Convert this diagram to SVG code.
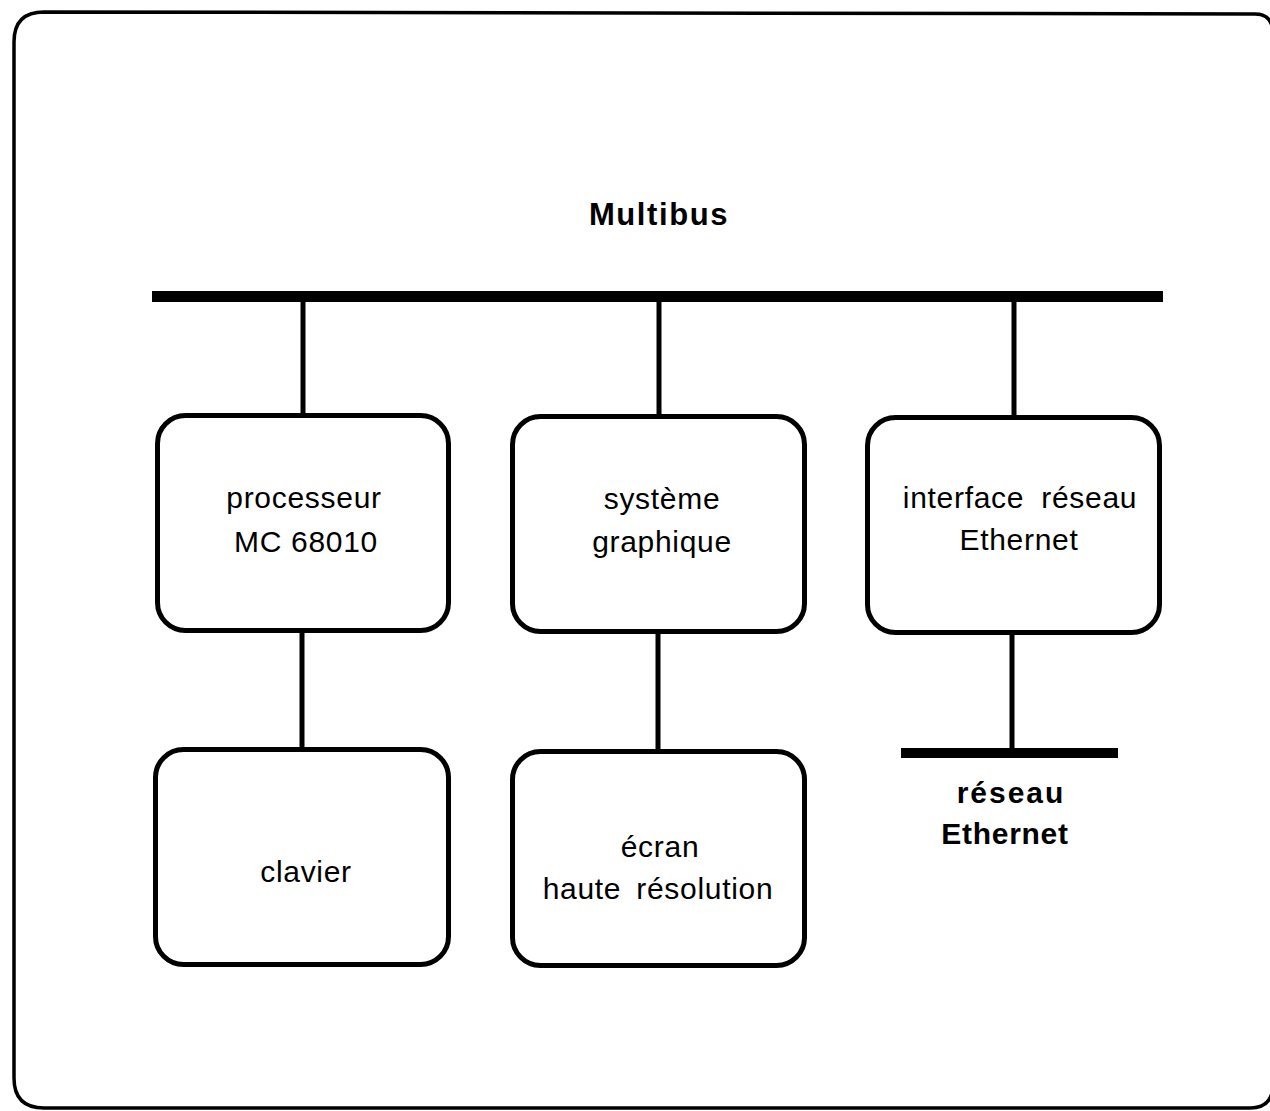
<svg xmlns="http://www.w3.org/2000/svg" width="1270" height="1111" viewBox="0 0 1270 1111">
  <style>
    .frame { fill: none; stroke: #000; stroke-width: 3.5; }
    .box { fill: #fff; stroke: #000; stroke-width: 5; }
    .wire { stroke: #000; stroke-width: 5; fill: none; }
    .bus { fill: #000; }
    .lbl { font-family: "Liberation Sans", Arial, Helvetica, sans-serif; font-size: 30px; fill: #000; text-anchor: middle; letter-spacing: 0.7px; }
    .bold { font-weight: bold; }
  </style>

  <!-- outer frame -->
  <path class="frame" d="M 44 12 L 1255 14 Q 1272 14 1273 32 L 1273 1086 Q 1272 1108 1250 1108 L 44 1108 Q 14 1108 14 1078 L 14 42 Q 14 12 44 12 Z"/>

  <!-- bus title -->
  <text class="lbl bold" x="659" y="225" style="font-size:31px;letter-spacing:1.6px">Multibus</text>

  <!-- connectors: buses and links -->
  <g id="connectors">
    <rect class="bus" x="152" y="291" width="1011" height="11"/>
    <rect class="bus" x="901" y="748" width="217" height="10"/>
    <line class="wire" x1="303" y1="300" x2="303" y2="416"/>
    <line class="wire" x1="659" y1="300" x2="659" y2="417"/>
    <line class="wire" x1="1014" y1="300" x2="1014" y2="418"/>
    <line class="wire" x1="302" y1="630" x2="302" y2="750"/>
    <line class="wire" x1="658" y1="631" x2="658" y2="752"/>
    <line class="wire" x1="1012" y1="632" x2="1012" y2="750"/>
  </g>

  <g id="processeur">
    <rect class="box" x="157.5" y="415.5" width="291" height="215" rx="28"/>
    <text class="lbl" x="304" y="508">processeur</text>
    <text class="lbl" x="306" y="552">MC 68010</text>
  </g>

  <g id="systeme-graphique">
    <rect class="box" x="512.5" y="416.5" width="292" height="215" rx="28"/>
    <text class="lbl" x="662" y="509">système</text>
    <text class="lbl" x="662" y="552">graphique</text>
  </g>

  <g id="interface-reseau">
    <rect class="box" x="867.5" y="417.5" width="292" height="215" rx="28"/>
    <text class="lbl" x="1020" y="508" style="word-spacing:8px">interface réseau</text>
    <text class="lbl" x="1019" y="550">Ethernet</text>
  </g>

  <g id="clavier">
    <rect class="box" x="155.5" y="749.5" width="293" height="215" rx="28"/>
    <text class="lbl" x="306" y="882">clavier</text>
  </g>

  <g id="ecran">
    <rect class="box" x="512.5" y="751.5" width="292" height="214" rx="28"/>
    <text class="lbl" x="660" y="857">écran</text>
    <text class="lbl" x="658" y="899" style="word-spacing:6px">haute résolution</text>
  </g>

  <g id="reseau-ethernet">
    <text class="lbl bold" x="1011" y="803" style="letter-spacing:2px">réseau</text>
    <text class="lbl bold" x="1005" y="844">Ethernet</text>
  </g>
</svg>
